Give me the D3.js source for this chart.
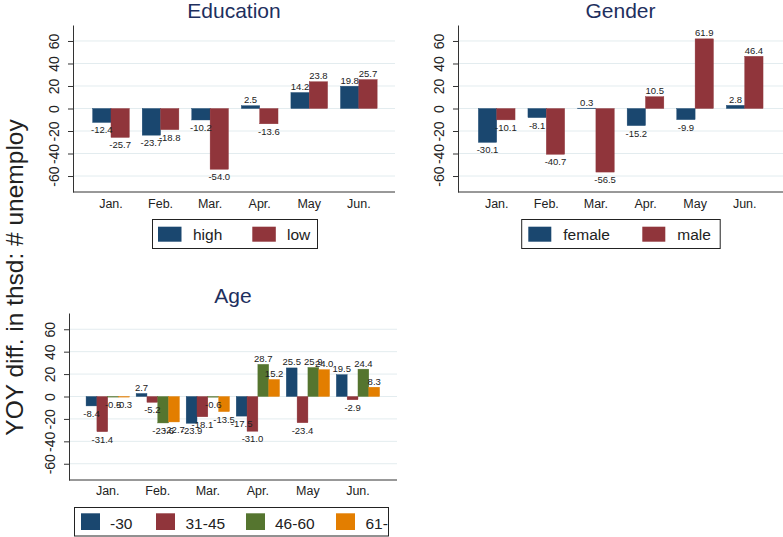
<!DOCTYPE html>
<html>
<head>
<meta charset="utf-8">
<script src="https://cdn.jsdelivr.net/npm/d3@7"></script>
<style>
  html, body { margin: 0; padding: 0; background: #fff; }
  svg { display: block; font-family: "Liberation Sans", Arial, Helvetica, sans-serif; }
</style>
</head>
<body>
<svg id="chart" width="783" height="537"></svg>
<script>
// ---------- data ----------
const months = ["Jan.", "Feb.", "Mar.", "Apr.", "May", "Jun."];
const yTicks = [-60, -40, -20, 0, 20, 40, 60];

const eduNames = ["high", "low"];
const eduHigh = [-12.4, -23.7, -10.2, 2.5, 14.2, 19.8];
const eduLow  = [-25.7, -18.8, -54.0, -13.6, 23.8, 25.7];

const genderNames = ["female", "male"];
const genderFemale = [-30.1, -8.1, 0.3, -15.2, -9.9, 2.8];
const genderMale   = [-10.1, -40.7, -56.5, 10.5, 61.9, 46.4];

const ageNames = ["-30", "31-45", "46-60", "61-"];
const ageU30  = [-8.4, 2.7, -23.9, -17.5, 25.5, 19.5];
const age3145 = [-31.4, -5.2, -18.1, -31.0, -23.4, -2.9];
const age4660 = [-0.5, -23.6, -0.6, 28.7, 25.9, 24.4];
const age61   = [-0.3, -22.7, -13.5, 15.2, 24.0, 8.3];

const yTitle = "YOY diff. in thsd: # unemploy";

// ---------- style ----------
const colors = ["#1a476f", "#90353b", "#55752f", "#e37e00"];
const titleColor = "#1e2f5e";
const gridColor = "#e3ecef";
const axisColor = "#333";
const fmt = v => v.toFixed(1);
const tfmt = v => String(v);

const svg = d3.select("#chart");

function drawPanel(cfg) {
  const g = svg.append("g");
  const y = d3.scaleLinear().domain(cfg.domain).range([cfg.y1, cfg.y0]);
  const x = d3.scaleBand().domain(months).range(cfg.band)
    .paddingInner(cfg.pad).paddingOuter(cfg.pad / 2);
  const xs = d3.scaleBand().domain(cfg.names).range([0, x.bandwidth()]);

  // gridlines
  g.selectAll("line.grid").data(yTicks).join("line")
    .attr("x1", cfg.x0).attr("x2", cfg.x1)
    .attr("y1", d => y(d)).attr("y2", d => y(d))
    .attr("stroke", gridColor).attr("stroke-width", 1);

  // bars
  const rows = [];
  cfg.series.forEach((vals, si) => {
    vals.forEach((v, mi) => rows.push({ m: months[mi], s: cfg.names[si], si, v }));
  });
  g.selectAll("rect.bar").data(rows).join("rect")
    .attr("x", d => x(d.m) + xs(d.s))
    .attr("width", xs.bandwidth())
    .attr("y", d => Math.min(y(d.v), y(0)))
    .attr("height", d => Math.max(Math.abs(y(d.v) - y(0)), 0.6))
    .attr("fill", d => colors[d.si])
    .attr("stroke", d => colors[d.si]).attr("stroke-width", 0.4);

  // value labels
  g.selectAll("text.val").data(rows).join("text")
    .attr("x", d => x(d.m) + xs(d.s) + xs.bandwidth() / 2)
    .attr("y", d => d.v >= 0 ? y(d.v) - 2.5 : y(d.v) + 11)
    .attr("text-anchor", "middle")
    .attr("font-size", 9.5)
    .attr("fill", "#222")
    .text(d => fmt(d.v));

  // y axis
  const ya = g.append("g").attr("transform", `translate(${cfg.x0},0)`)
    .call(d3.axisLeft(y).tickValues(yTicks).tickSize(5).tickSizeOuter(0).tickFormat(tfmt));
  ya.attr("font-family", null).attr("font-size", null);
  ya.select(".domain").attr("stroke", axisColor);
  ya.selectAll(".tick line").attr("stroke", axisColor);
  ya.selectAll(".tick text")
    .attr("transform", "rotate(-90)")
    .attr("x", 0).attr("y", -14.5).attr("dy", null)
    .attr("text-anchor", "middle")
    .attr("font-size", 14).attr("fill", "#222");

  // bottom axis line
  g.append("line").attr("x1", cfg.x0).attr("x2", cfg.x1)
    .attr("y1", cfg.y1).attr("y2", cfg.y1).attr("stroke", axisColor);

  // x labels
  const xa = g.append("g").attr("transform", `translate(0,${cfg.y1})`)
    .call(d3.axisBottom(x).tickSize(0));
  xa.select(".domain").remove();
  xa.attr("font-family", null).attr("font-size", null);
  xa.selectAll(".tick text").attr("y", cfg.xLab - cfg.y1).attr("dy", null)
    .attr("font-size", 12.5).attr("fill", "#222");

  // title
  g.append("text").attr("x", (cfg.x0 + cfg.x1) / 2).attr("y", cfg.titleY)
    .attr("text-anchor", "middle").attr("font-size", 21)
    .attr("fill", titleColor).text(cfg.title);

  // legend
  const L = cfg.legend;
  g.append("rect").attr("x", L.x).attr("y", L.y).attr("width", L.w).attr("height", L.h)
    .attr("fill", "#fff").attr("stroke", "#222").attr("stroke-width", 1);
  cfg.names.forEach((n, i) => {
    g.append("rect").attr("x", L.kx[i]).attr("y", L.ky).attr("width", L.kw).attr("height", L.kh)
      .attr("fill", colors[i]);
    g.append("text").attr("x", L.tx[i]).attr("y", L.ty)
      .attr("font-size", 15.5).attr("fill", "#222").text(n);
  });
}

drawPanel({
  title: "Education", names: eduNames, series: [eduHigh, eduLow],
  x0: 73, x1: 395, y0: 25, y1: 192, domain: [-74.2, 74.2],
  band: [86.2, 383.6], pad: 0.26, xLab: 207.5, titleY: 17.5,
  legend: { x: 152.5, y: 219.5, w: 165, h: 29, kx: [158, 252.3], kw: 23.5, ky: 226.7, kh: 15,
            tx: [193, 287], ty: 240 }
});

drawPanel({
  title: "Gender", names: genderNames, series: [genderFemale, genderMale],
  x0: 458, x1: 783, y0: 25, y1: 192, domain: [-74.2, 74.2],
  band: [471.9, 769.5], pad: 0.26, xLab: 207.5, titleY: 17.5,
  legend: { x: 521.7, y: 219.5, w: 198.5, h: 29, kx: [528.3, 642.3], kw: 23, ky: 226.7, kh: 15,
            tx: [563.3, 677.3], ty: 240 }
});

drawPanel({
  title: "Age", names: ageNames, series: [ageU30, age3145, age4660, age61],
  x0: 69, x1: 397, y0: 313, y1: 480, domain: [-74.5, 74.5],
  band: [82.7, 383], pad: 0.135, xLab: 495, titleY: 303,
  legend: { x: 74.5, y: 507.5, w: 314, h: 28.5, kx: [81, 156, 246, 336], kw: 19, ky: 513.3, kh: 16.7,
            tx: [110, 185.5, 275, 365.5], ty: 528.5 }
});

// overall y title
svg.append("text")
  .attr("transform", "translate(22.5,277.5) rotate(-90)")
  .attr("text-anchor", "middle").attr("font-size", 24.5).attr("fill", "#222")
  .text(yTitle);
</script>
</body>
</html>
